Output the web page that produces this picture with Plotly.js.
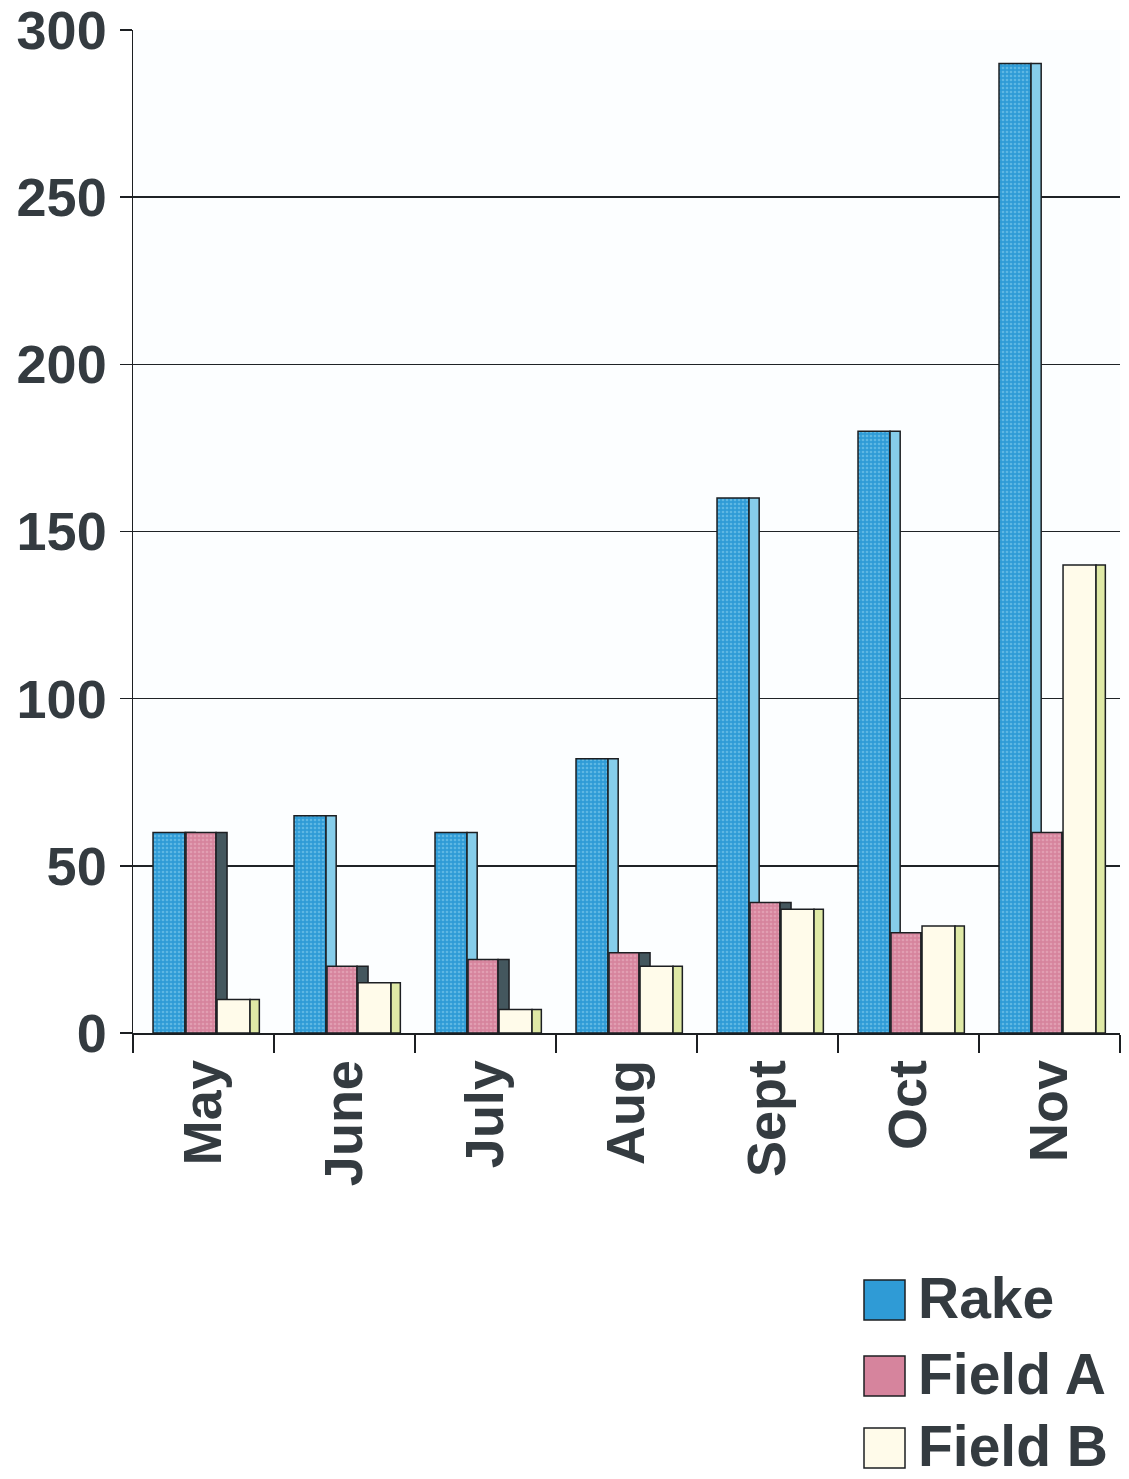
<!DOCTYPE html>
<html>
<head>
<meta charset="utf-8">
<script src="https://cdn.plot.ly/plotly-3.0.1.min.js"></script>
<style>
  html, body { margin: 0; padding: 0; background: #ffffff; }
  #chart { width: 1129px; height: 1479px; }
</style>
</head>
<body>
<div id="chart"></div>
<script>
// ---- data ----
const months = ['May', 'June', 'July', 'Aug', 'Sept', 'Oct', 'Nov'];
const rake   = [60, 65, 60, 82, 160, 180, 290];
const fieldA = [60, 20, 22, 24, 39, 30, 60];
const fieldB = [10, 15, 7, 20, 37, 32, 140];
const seriesNames = ['Rake', 'Field A', 'Field B'];
const yTicks = [0, 50, 100, 150, 200, 250, 300];

// ---- styles ----
const frontColors = ['#2f9bd6', '#d6849d', '#fffbea'];
const speckColors = ['#8ed4f0', '#ecb8c8', '#fffbea'];
const sideColors  = ['#86cdea', '#44575e', '#dfe9a6'];
const edge = '#1c1f22';
const txt = '#343b40';
const fontFam = '"Liberation Sans", Arial, sans-serif';

const W = 1129, H = 1479;
const L = 133, R = 1120, T = 30, B = 1033;

const geo = [
  {off: -0.358, w: 0.227, soff: -0.131, sw: 0.072},
  {off: -0.124, w: 0.213, soff: 0.089, sw: 0.078},
  {off: 0.096,  w: 0.234, soff: 0.330, sw: 0.066}
];
const vals = [rake, fieldA, fieldB];

const traces = [];
vals.forEach((v, i) => {
  const marker = {color: frontColors[i], line: {color: edge, width: 1.5}};
  if (i < 2) {
    marker.pattern = {shape: '.', fgcolor: speckColors[i], bgcolor: frontColors[i],
                      size: 4, solidity: 0.35, fillmode: 'overlay'};
  }
  traces.push({
    type: 'bar', x: months, y: v, name: seriesNames[i],
    offset: geo[i].off, width: geo[i].w,
    marker: marker,
    showlegend: false, hoverinfo: 'x+y+name'
  });
  traces.push({
    type: 'bar', x: months, y: v, name: seriesNames[i] + ' side',
    offset: geo[i].soff, width: geo[i].sw,
    marker: {color: sideColors[i], line: {color: edge, width: 1.5}},
    showlegend: false, hoverinfo: 'skip'
  });
});

// legend drawn as shapes + annotations (large swatches like the reference)
const px2x = p => (p - L) / (R - L);
const px2y = p => (B - p) / (B - T);
const legendRows = [1300, 1376, 1448];
const shapes = [];
const annotations = [];
seriesNames.forEach((n, i) => {
  const cy = legendRows[i];
  shapes.push({
    type: 'rect', xref: 'paper', yref: 'paper',
    x0: px2x(864), x1: px2x(905), y0: px2y(cy - 20), y1: px2y(cy + 20),
    fillcolor: frontColors[i], line: {color: edge, width: 1.5}
  });
  annotations.push({
    xref: 'paper', yref: 'paper', x: px2x(916), y: px2y(cy - 2),
    xanchor: 'left', yanchor: 'middle', showarrow: false, text: n,
    font: {family: fontFam, size: 57, color: txt, weight: 'bold'}
  });
});

const layout = {
  width: W, height: H,
  margin: {l: L, r: W - R, t: T, b: H - B, pad: 0},
  paper_bgcolor: '#ffffff',
  plot_bgcolor: '#fcfeff',
  barmode: 'overlay',
  showlegend: false,
  xaxis: {
    type: 'category', categoryarray: months,
    showline: true, linecolor: edge, linewidth: 1.5,
    ticks: 'outside', tickson: 'boundaries', ticklen: 18, tickwidth: 1.5, tickcolor: edge,
    tickangle: -90, ticklabelstandoff: 4,
    tickfont: {family: fontFam, size: 54, color: txt, weight: 'bold'},
    showgrid: false, zeroline: false
  },
  yaxis: {
    range: [0, 300], tickvals: yTicks, ticktext: yTicks.map(String),
    showline: true, linecolor: edge, linewidth: 1.5,
    ticks: 'outside', ticklen: 12, tickwidth: 1.5, tickcolor: edge,
    ticklabelstandoff: 2, ticklabeloverflow: 'allow',
    tickfont: {family: fontFam, size: 54, color: txt, weight: 'bold'},
    showgrid: true, gridcolor: '#1f2326', gridwidth: 1.6,
    zeroline: false
  },
  shapes: shapes,
  annotations: annotations
};

Plotly.newPlot('chart', traces, layout, {displayModeBar: false, staticPlot: true});
</script>
</body>
</html>
